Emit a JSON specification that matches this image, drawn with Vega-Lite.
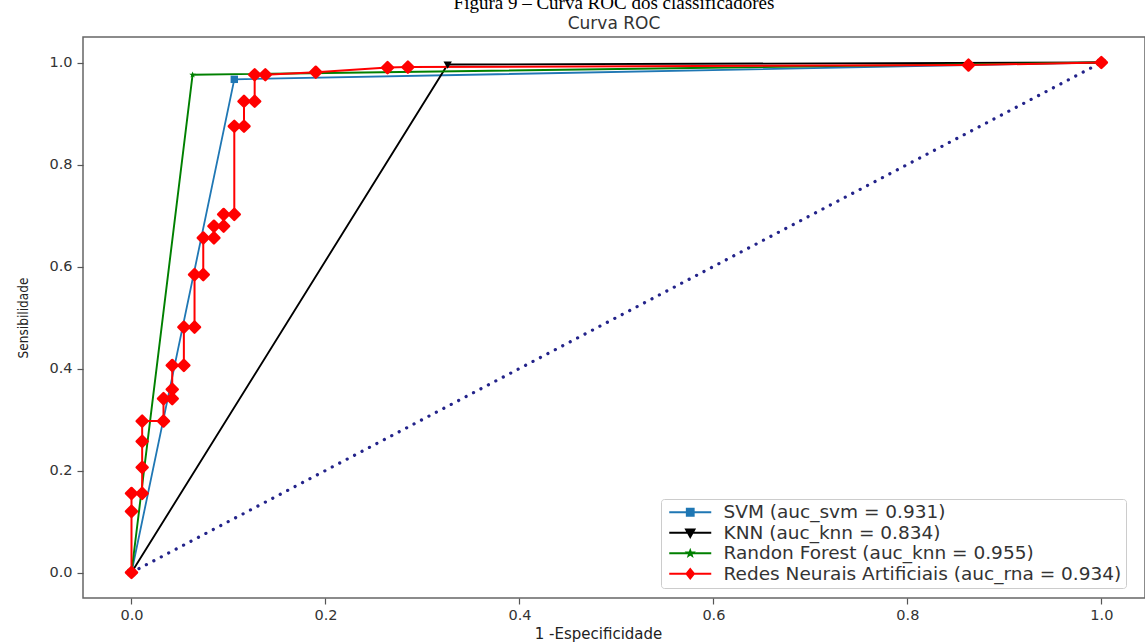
{
  "$schema": "https://vega.github.io/schema/vega-lite/v6.json",
  "width": 1062,
  "height": 561,
  "autosize": {"type": "none"},
  "padding": {"left": 83, "top": 37, "right": 0, "bottom": 46},
  "background": "white",
  "config": {
    "view": {"stroke": "#666", "strokeWidth": 1.5},
    "axis": {"labelFont": "DejaVu Sans", "labelFontSize": 14.5, "labelColor": "#333", "tickColor": "#555", "tickSize": 6, "tickWidth": 1.2, "grid": false, "domain": false, "titleColor": "#222"}
  },
  "title": {
    "text": "Figura 9 – Curva ROC dos classificadores",
    "font": "Liberation Serif", "fontSize": 19, "fontWeight": "normal", "color": "#000",
    "subtitle": "Curva ROC", "subtitleFont": "DejaVu Sans", "subtitleFontSize": 17, "subtitleColor": "#333",
    "subtitlePadding": 3, "offset": 5, "anchor": "middle", "frame": "group"
  },
  "datasets": {
    "roc": [
      {"model": "SVM (auc_svm = 0.931)", "i": 0, "fpr": 0, "tpr": 0},
      {"model": "SVM (auc_svm = 0.931)", "i": 1, "fpr": 0.106, "tpr": 0.967},
      {"model": "SVM (auc_svm = 0.931)", "i": 2, "fpr": 1, "tpr": 1},
      {"model": "KNN (auc_knn = 0.834)", "i": 0, "fpr": 0, "tpr": 0},
      {"model": "KNN (auc_knn = 0.834)", "i": 1, "fpr": 0.326, "tpr": 0.996},
      {"model": "KNN (auc_knn = 0.834)", "i": 2, "fpr": 1, "tpr": 1},
      {"model": "Randon Forest (auc_knn = 0.955)", "i": 0, "fpr": 0, "tpr": 0},
      {"model": "Randon Forest (auc_knn = 0.955)", "i": 1, "fpr": 0.063, "tpr": 0.976},
      {"model": "Randon Forest (auc_knn = 0.955)", "i": 2, "fpr": 1, "tpr": 1},
      {"model": "Redes Neurais Artificiais (auc_rna = 0.934)", "i": 0, "fpr": 0, "tpr": 0},
      {"model": "Redes Neurais Artificiais (auc_rna = 0.934)", "i": 1, "fpr": 0, "tpr": 0.12},
      {"model": "Redes Neurais Artificiais (auc_rna = 0.934)", "i": 2, "fpr": 0, "tpr": 0.155},
      {"model": "Redes Neurais Artificiais (auc_rna = 0.934)", "i": 3, "fpr": 0.011, "tpr": 0.155},
      {"model": "Redes Neurais Artificiais (auc_rna = 0.934)", "i": 4, "fpr": 0.011, "tpr": 0.206},
      {"model": "Redes Neurais Artificiais (auc_rna = 0.934)", "i": 5, "fpr": 0.011, "tpr": 0.257},
      {"model": "Redes Neurais Artificiais (auc_rna = 0.934)", "i": 6, "fpr": 0.011, "tpr": 0.297},
      {"model": "Redes Neurais Artificiais (auc_rna = 0.934)", "i": 7, "fpr": 0.033, "tpr": 0.297},
      {"model": "Redes Neurais Artificiais (auc_rna = 0.934)", "i": 8, "fpr": 0.033, "tpr": 0.341},
      {"model": "Redes Neurais Artificiais (auc_rna = 0.934)", "i": 9, "fpr": 0.042, "tpr": 0.341},
      {"model": "Redes Neurais Artificiais (auc_rna = 0.934)", "i": 10, "fpr": 0.042, "tpr": 0.359},
      {"model": "Redes Neurais Artificiais (auc_rna = 0.934)", "i": 11, "fpr": 0.042, "tpr": 0.406},
      {"model": "Redes Neurais Artificiais (auc_rna = 0.934)", "i": 12, "fpr": 0.054, "tpr": 0.406},
      {"model": "Redes Neurais Artificiais (auc_rna = 0.934)", "i": 13, "fpr": 0.054, "tpr": 0.481},
      {"model": "Redes Neurais Artificiais (auc_rna = 0.934)", "i": 14, "fpr": 0.065, "tpr": 0.481},
      {"model": "Redes Neurais Artificiais (auc_rna = 0.934)", "i": 15, "fpr": 0.065, "tpr": 0.584},
      {"model": "Redes Neurais Artificiais (auc_rna = 0.934)", "i": 16, "fpr": 0.074, "tpr": 0.584},
      {"model": "Redes Neurais Artificiais (auc_rna = 0.934)", "i": 17, "fpr": 0.074, "tpr": 0.656},
      {"model": "Redes Neurais Artificiais (auc_rna = 0.934)", "i": 18, "fpr": 0.085, "tpr": 0.656},
      {"model": "Redes Neurais Artificiais (auc_rna = 0.934)", "i": 19, "fpr": 0.085, "tpr": 0.679},
      {"model": "Redes Neurais Artificiais (auc_rna = 0.934)", "i": 20, "fpr": 0.095, "tpr": 0.679},
      {"model": "Redes Neurais Artificiais (auc_rna = 0.934)", "i": 21, "fpr": 0.095, "tpr": 0.702},
      {"model": "Redes Neurais Artificiais (auc_rna = 0.934)", "i": 22, "fpr": 0.106, "tpr": 0.702},
      {"model": "Redes Neurais Artificiais (auc_rna = 0.934)", "i": 23, "fpr": 0.106, "tpr": 0.875},
      {"model": "Redes Neurais Artificiais (auc_rna = 0.934)", "i": 24, "fpr": 0.116, "tpr": 0.875},
      {"model": "Redes Neurais Artificiais (auc_rna = 0.934)", "i": 25, "fpr": 0.116, "tpr": 0.924},
      {"model": "Redes Neurais Artificiais (auc_rna = 0.934)", "i": 26, "fpr": 0.127, "tpr": 0.924},
      {"model": "Redes Neurais Artificiais (auc_rna = 0.934)", "i": 27, "fpr": 0.127, "tpr": 0.976},
      {"model": "Redes Neurais Artificiais (auc_rna = 0.934)", "i": 28, "fpr": 0.138, "tpr": 0.976},
      {"model": "Redes Neurais Artificiais (auc_rna = 0.934)", "i": 29, "fpr": 0.19, "tpr": 0.981},
      {"model": "Redes Neurais Artificiais (auc_rna = 0.934)", "i": 30, "fpr": 0.264, "tpr": 0.99},
      {"model": "Redes Neurais Artificiais (auc_rna = 0.934)", "i": 31, "fpr": 0.285, "tpr": 0.991},
      {"model": "Redes Neurais Artificiais (auc_rna = 0.934)", "i": 32, "fpr": 0.863, "tpr": 0.995},
      {"model": "Redes Neurais Artificiais (auc_rna = 0.934)", "i": 33, "fpr": 1, "tpr": 1}
    ],
    "diag": [{"fpr": 0, "tpr": 0}, {"fpr": 1, "tpr": 1}]
  },
  "encoding": {
    "x": {"field": "fpr", "type": "quantitative", "scale": {"domain": [-0.05, 1.045], "nice": false, "zero": false},
      "axis": {"values": [0, 0.2, 0.4, 0.6, 0.8, 1.0], "format": ".1f", "title": "1 -Especificidade", "titleFont": "DejaVu Sans", "titleFontSize": 15, "titleFontWeight": "normal", "titlePadding": 5, "labelPadding": 4, "titleX": 515}},
    "y": {"field": "tpr", "type": "quantitative", "scale": {"domain": [-0.05, 1.05], "nice": false, "zero": false},
      "axis": {"values": [0, 0.2, 0.4, 0.6, 0.8, 1.0], "format": ".1f", "title": "Sensibilidade", "titleFont": "DejaVu Sans Condensed", "titleFontSize": 13.5, "titleFontWeight": "normal", "titlePadding": 18, "labelPadding": 5}}
  },
  "layer": [
    {
      "data": {"name": "diag"},
      "mark": {"type": "line", "color": "#23238a", "strokeDash": [0.1, 8.3], "strokeWidth": 3.2, "strokeCap": "round"},
      "encoding": {}
    },
    {
      "data": {"name": "roc"},
      "mark": {"type": "line"},
      "encoding": {
        "order": {"field": "i", "type": "quantitative"},
        "color": {"field": "model", "type": "nominal",
          "scale": {"domain": ["SVM (auc_svm = 0.931)", "KNN (auc_knn = 0.834)", "Randon Forest (auc_knn = 0.955)", "Redes Neurais Artificiais (auc_rna = 0.934)"],
                    "range": ["#1f77b4", "#000000", "#008000", "#ff0000"]},
          "legend": {
            "title": null, "orient": "none", "legendX": 578, "legendY": 462,
            "padding": 4, "strokeColor": "#cccccc", "fillColor": "white", "cornerRadius": 3,
            "labelFont": "DejaVu Sans", "labelFontSize": 18.5, "labelColor": "#333", "labelLimit": 700,
            "symbolSize": 100, "symbolStrokeWidth": 1.6, "symbolOffset": 16, "labelOffset": 24, "rowPadding": 1.5,
            "encode": {
              "symbols": {"update": {
                "shape": {"signal": "indexof(datum.value, 'SVM') == 0 ? 'M-4.2,0H4.2M-0.7,-0.7H0.7V0.7H-0.7Z' : indexof(datum.value, 'KNN') == 0 ? 'M-4.2,0H4.2M-0.85,-0.65H0.85L0,0.85Z' : indexof(datum.value, 'Randon') == 0 ? 'M-4.2,0H4.2M0,-0.55L0.15,-0.15L0.55,-0.15L0.23,0.09L0.34,0.47L0,0.23L-0.34,0.47L-0.23,0.09L-0.55,-0.15L-0.15,-0.15Z' : 'M-4.2,0H4.2M0,-0.95L0.75,0L0,0.95L-0.75,0Z'"},
                "fill": {"scale": "color", "field": "value"},
                "stroke": {"scale": "color", "field": "value"},
                "fillOpacity": {"value": 1},
                "strokeWidth": {"value": 1.6}
              }}
            }
          }
        },
        "strokeWidth": {"field": "model", "type": "nominal", "legend": null,
          "scale": {"domain": ["SVM (auc_svm = 0.931)", "KNN (auc_knn = 0.834)", "Randon Forest (auc_knn = 0.955)", "Redes Neurais Artificiais (auc_rna = 0.934)"], "range": [1.8, 2, 1.8, 2.6]}}
      }
    },
    {
      "data": {"name": "roc"},
      "transform": [{"filter": "datum.model == 'SVM (auc_svm = 0.931)'"}],
      "mark": {"type": "point", "shape": "square", "filled": true, "opacity": 1, "color": "#1f77b4", "size": 55}
    },
    {
      "data": {"name": "roc"},
      "transform": [{"filter": "datum.model == 'KNN (auc_knn = 0.834)'"}],
      "mark": {"type": "point", "shape": "M-1,-0.75H1L0,1Z", "filled": true, "opacity": 1, "color": "#000000", "size": 70}
    },
    {
      "data": {"name": "roc"},
      "transform": [{"filter": "datum.model == 'Randon Forest (auc_knn = 0.955)'"}],
      "mark": {"type": "point", "shape": "M0,-1L0.27,-0.27L1,-0.27L0.42,0.16L0.62,0.85L0,0.42L-0.62,0.85L-0.42,0.16L-1,-0.27L-0.27,-0.27Z", "filled": true, "opacity": 1, "color": "#008000", "size": 45}
    },
    {
      "data": {"name": "roc"},
      "transform": [{"filter": "datum.model == 'Redes Neurais Artificiais (auc_rna = 0.934)'"}],
      "mark": {"type": "point", "shape": "diamond", "filled": true, "opacity": 1, "color": "#ff0000", "stroke": "#ff0000", "strokeWidth": 2.5, "strokeJoin": "round", "size": 120}
    }
  ]
}
